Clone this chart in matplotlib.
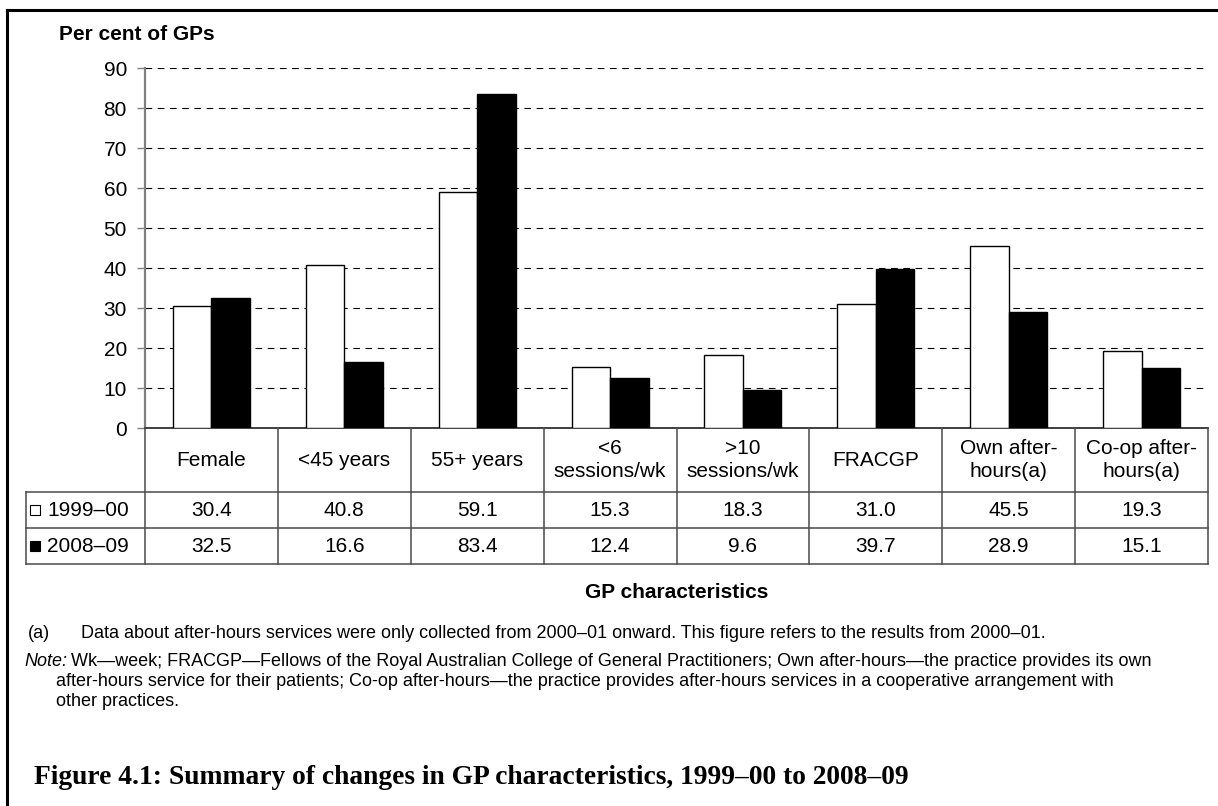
#!/usr/bin/python3

# grouped bar chart of GP characteristics with a data table underneath

import matplotlib
matplotlib.use('Agg')
import matplotlib.pyplot as plt
from matplotlib.lines import Line2D

plt.rcParams['font.family'] = ['Liberation Sans', 'DejaVu Sans']

# data
categories = ['Female', '<45 years', '55+ years', '<6\nsessions/wk',
              '>10\nsessions/wk', 'FRACGP', 'Own after-\nhours(a)',
              'Co-op after-\nhours(a)']
series_names = ['1999\u201300', '2008\u201309']
values_1999 = [30.4, 40.8, 59.1, 15.3, 18.3, 31.0, 45.5, 19.3]
values_2008 = [32.5, 16.6, 83.4, 12.4, 9.6, 39.7, 28.9, 15.1]
y_ticks = [0, 10, 20, 30, 40, 50, 60, 70, 80, 90]

W, H = 1218, 806


def fx(px):
    return px / W


def fy(py):
    return 1 - py / H


fig = plt.figure(figsize=(W / 100, H / 100), dpi=100)

# outer frame (top and left only)
fig.add_artist(Line2D([fx(7), fx(W)], [fy(10), fy(10)], color='black', lw=2.2))
fig.add_artist(Line2D([fx(7), fx(7)], [fy(10), fy(H)], color='black', lw=2.2))

x0, x1, ytop, ybase, ytab = 145, 1208, 68, 428, 564
ax = fig.add_axes([fx(x0), fy(ybase), fx(x1 - x0), (ybase - ytop) / H])

n = len(categories)
xs = list(range(n))
bw = 0.29
ax.bar([x - bw / 2 for x in xs], values_1999, width=bw, color='white',
       edgecolor='black', lw=1, zorder=3)
ax.bar([x + bw / 2 for x in xs], values_2008, width=bw, color='black',
       edgecolor='black', lw=1, zorder=3)

ax.set_xlim(-0.5, n - 0.5)
ax.set_ylim(0, 90)
ax.set_yticks(y_ticks)
ax.set_xticks([])
ax.tick_params(axis='y', labelsize=15, length=6, width=1, color='#808080',
               pad=7)
ax.yaxis.grid(True, color='black', lw=0.8, linestyle=(0, (6, 5)), zorder=0)
for s in ['top', 'right']:
    ax.spines[s].set_visible(False)
ax.spines['left'].set_color('#808080')
ax.spines['left'].set_linewidth(1.6)
ax.spines['bottom'].set_color('#202020')
ax.spines['bottom'].set_linewidth(1.2)

# data table below the plot
tax = fig.add_axes([fx(x0), fy(ytab), fx(x1 - x0), (ytab - ybase) / H])
tax.set_xlim(-0.5, n - 0.5)
tax.set_ylim(ytab - ybase, 0)
tax.axis('off')
unit = (x1 - x0) / n


def dx(px):
    # figure pixel x to table data x
    return -0.5 + (px - x0) / unit


row_top = [0, 64, 100, 136]
lc = '#4a4a4a'
for i in range(n + 1):
    tax.plot([i - 0.5, i - 0.5], [0, 136], color=lc, lw=1.1, clip_on=False)
for r in row_top[1:]:
    tax.plot([dx(26), n - 0.5], [r, r], color=lc, lw=1.1, clip_on=False)
tax.plot([dx(26), dx(26)], [64, 136], color=lc, lw=1.1, clip_on=False)

for i, c in enumerate(categories):
    tax.text(i, 32, c, ha='center', va='center', fontsize=15,
             linespacing=1.25)
for i in range(n):
    tax.text(i, 82, f'{values_1999[i]:.1f}', ha='center', va='center',
             fontsize=15)
    tax.text(i, 118, f'{values_2008[i]:.1f}', ha='center', va='center',
             fontsize=15)

# legend keys in the left column
tax.plot([dx(34.5)], [82], marker='s', ms=7.5, mfc='white', mec='black',
         mew=0.8, clip_on=False)
tax.plot([dx(34.5)], [118], marker='s', ms=7.5, mfc='black', mec='black',
         mew=0.8, clip_on=False)
tax.text(dx(47), 82, series_names[0], ha='left', va='center', fontsize=15)
tax.text(dx(47), 118, series_names[1], ha='left', va='center', fontsize=15)

# labels and notes
fig.text(fx(59), fy(35), 'Per cent of GPs', fontsize=15, fontweight='bold',
         ha='left', va='center')
fig.text(fx(677), fy(592), 'GP characteristics', fontsize=15,
         fontweight='bold', ha='center', va='center')
fs_note = 13
fig.text(fx(28), fy(634), '(a)', fontsize=fs_note, ha='left', va='center')
fig.text(fx(81), fy(634),
         'Data about after-hours services were only collected from 2000\u201301 '
         'onward. This figure refers to the results from 2000\u201301.',
         fontsize=fs_note, ha='left', va='center')
fig.text(fx(24), fy(662), 'Note:', fontsize=fs_note, style='italic',
         ha='left', va='center')
fig.text(fx(71), fy(662),
         'Wk\u2014week; FRACGP\u2014Fellows of the Royal Australian College of '
         'General Practitioners; Own after-hours\u2014the practice provides its own',
         fontsize=fs_note, ha='left', va='center')
fig.text(fx(56), fy(682),
         'after-hours service for their patients; Co-op after-hours\u2014the '
         'practice provides after-hours services in a cooperative arrangement with',
         fontsize=fs_note, ha='left', va='center')
fig.text(fx(56), fy(702), 'other practices.', fontsize=fs_note,
         ha='left', va='center')

fig.text(fx(34), fy(784),
         'Figure 4.1: Summary of changes in GP characteristics, '
         '1999\u201300 to 2008\u201309',
         fontsize=19.8, fontweight='bold', family='Liberation Serif',
         ha='left', va='baseline')

fig.savefig('out.png', dpi=100)
